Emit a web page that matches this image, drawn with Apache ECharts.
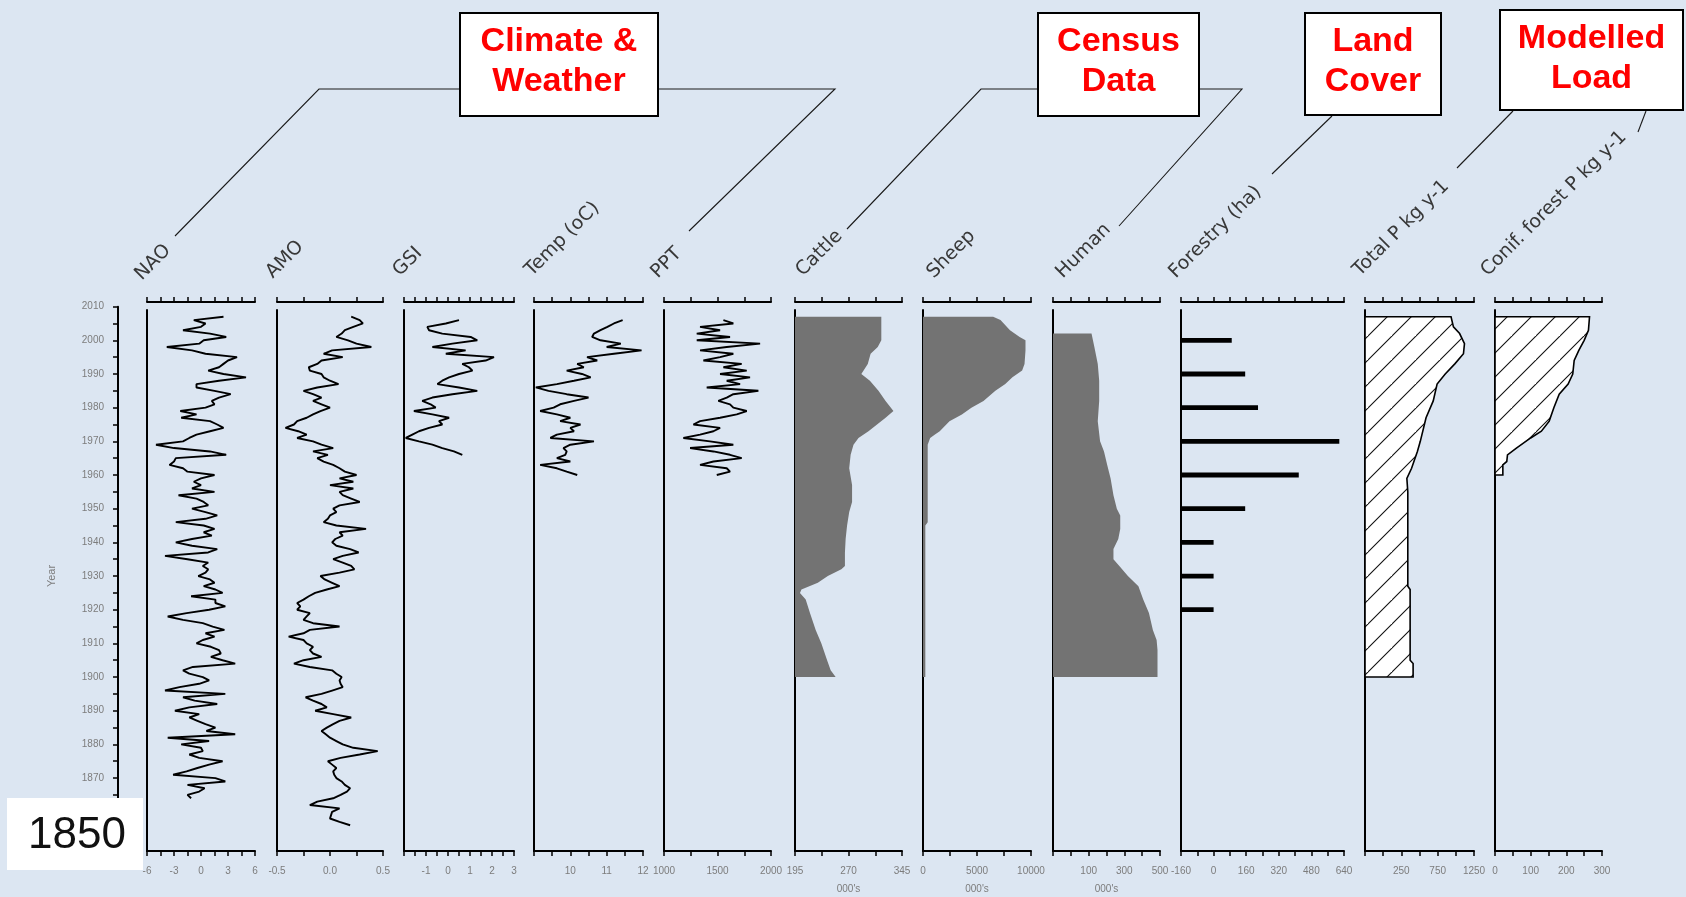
<!DOCTYPE html>
<html>
<head>
<meta charset="utf-8">
<script src="https://cdn.jsdelivr.net/npm/echarts@6/dist/echarts.min.js"></script>
<style>
  html, body { margin: 0; padding: 0; background: #dce6f2; }
  #chart { width: 1686px; height: 897px; }
</style>
</head>
<body>
<div id="chart"></div>
<script>
// ---------------- data ----------------
// Climate indices, annual
const naoStart = 1864;
const naoValues = [
  -1.1, -1.5, -0.2, 0.4, -1.5, 2.7, 1.6, -3.1, -1.6, -0.4, 0.9, 2.4, -0.2, -1.3, 0.2, 0.0, -2.2, 0.9, -3.7, 3.8,
  0.6, 1.6, 0.5, -0.4, -1.3, -0.2, -2.9, -1.3, 1.8, -0.7, -2.0, 2.7, -4.0, -2.4, -0.2, 0.9, 0.2, -1.3, -2.0, -0.9,
  3.8, 2.4, 1.1, 2.2, 2.0, 1.1,
  -0.5, 0.2, 1.5, 0.5, 2.6, 1.3, 0.2, -2.0, -3.7, -1.6, 0.9, 2.7, 1.6, 1.6, -1.1, 2.4, 1.6, 0.3, 1.5, 1.0,
  -0.3, 0.5, 0.8, 0.2, 0.8, -1.5, -4.0, 0.8, 1.8, -1.0, -2.8, -1.0, 1.2, 0.3, 1.5, 0.3, -2.8, 0.5, 1.8, 0.5,
  -1.0, 0.8, 0.3, -0.5, -2.5, 1.5, -1.0, 0.0, -0.8, 0.0, 1.5, -1.5, -2.0, -3.5, -3.0, -2.8, 2.8, 1.0, -3.0, -5.0,
  -2.0, -1.3, -0.5, 1.0, 2.5, 1.8, 1.0, -2.2, -0.5, -2.3, 0.5, 1.5, 1.2, 2.0, 3.3, 1.5, -0.5, -0.5, 2.0, 5.0,
  2.5, 0.8, 2.0, 2.5, 3.0, 4.0, 0.5, -1.0, -3.8, -0.2, 0.3, 2.8, 1.0, -2.0, 0.0, 0.5, -0.8, 2.5
];
const amoStart = 1856;
const amoValues = [
  0.19, 0.09, 0.00, 0.01, 0.02, 0.09, -0.19, -0.12, 0.03, 0.10, 0.16, 0.19, 0.14, 0.11, 0.06, 0.04, 0.03, 0.06, 0.02, -0.02,
  0.10, 0.28, 0.45, 0.22, 0.12, 0.06, 0.00, -0.04, -0.08, -0.03, 0.03, 0.09, 0.20, 0.03, -0.14, -0.03, -0.08, -0.16, -0.23, -0.08,
  0.02, 0.12, 0.10, 0.09, 0.11, 0.06, 0.02, -0.19, -0.34, -0.25, -0.08, -0.16, -0.19, -0.16, -0.22, -0.25, -0.39, -0.25, -0.19, 0.09,
  -0.16, -0.25, -0.22, -0.19, -0.31, -0.28, -0.31, -0.25, -0.20, -0.14, -0.03, 0.09, 0.02, -0.05,
  -0.09, 0.09, 0.23, 0.20, 0.12, 0.03, 0.12, 0.27, 0.19, 0.06, 0.02, 0.05, 0.12, 0.09, 0.34, 0.06, -0.06, -0.02, 0.00, 0.06,
  0.03, 0.09, 0.28, 0.20, 0.12, 0.09, 0.22, 0.00, 0.22, 0.09, 0.25, 0.14, 0.09, 0.03, -0.06, -0.12, -0.02, -0.16, 0.03, -0.08,
  -0.16, -0.31, -0.22, -0.30, -0.42, -0.34, -0.31, -0.22, -0.16, -0.09, 0.00, -0.08, -0.16, -0.08, -0.16, -0.25, -0.12, 0.08, 0.00, -0.06,
  -0.08, -0.19, -0.20, -0.12, -0.08, 0.12, -0.06, 0.02, 0.39, 0.25, 0.17, 0.06, 0.11, 0.14, 0.22, 0.31, 0.28, 0.20
];
const gsiStart = 1966;
const gsiValues = [
  0.65, 0.27, -0.26, -0.71, -1.32, -1.92, -1.62, -1.32, -0.86, -0.26, -0.41, 0.05, -0.71, -1.55, -0.56, -0.79, -1.17, -0.71, 0.2, 1.33,
  0.5, -0.48, -0.26, 0.05, 0.5, 1.11, 0.95, 0.65, 1.71, 2.09, -0.1, 0.8, -0.71, 0.2, 1.33, 1.03, -0.26, -0.86, -0.94, -0.1, 0.5
];
const tempStart = 1960;
const tempValues = [
  10.19, 9.9, 9.63, 9.17, 10.0, 9.63, 9.86, 9.9, 9.81, 10.0, 10.65, 9.45, 9.63, 10.1, 10.0, 10.28, 9.72, 10.0, 9.63, 9.17,
  9.54, 9.72, 10.1, 10.5, 9.9, 9.4, 9.05, 9.63, 10.1, 10.56, 10.32, 9.9, 10.37, 10.19, 10.74, 10.46, 11.2, 11.96, 11.0, 11.39,
  10.83, 10.6, 10.65, 10.83, 11.02, 11.2, 11.44
];
const pptStart = 1960;
const pptValues = [
  1493, 1617, 1586, 1337, 1462, 1726, 1617, 1462, 1244, 1648, 1430, 1181, 1337, 1462, 1524, 1275, 1337, 1524, 1680, 1773,
  1648, 1617, 1508, 1586, 1648, 1882, 1399, 1711, 1586, 1804, 1524, 1773, 1555, 1726, 1368, 1524, 1648, 1337, 1586, 1898,
  1306, 1617, 1306, 1524, 1337, 1648, 1555
];

// Census data (000's)
const cattleYears  = [1900, 1902, 1905, 1910, 1914, 1919, 1923, 1925, 1926, 1928, 1930, 1932, 1933, 1937, 1941, 1945, 1949, 1952, 1957, 1962, 1966, 1969, 1971, 1973, 1975, 1977, 1979, 1982, 1985, 1988, 1990, 1993, 1996, 1998, 2000, 2007];
const cattleValues = [252, 245, 240, 232, 224, 216, 210, 202, 204, 227, 241, 260, 265, 265, 266, 268, 271, 275, 275, 271, 273, 277, 284, 298, 310, 322, 333, 322, 312, 300, 288, 297, 301, 311, 316, 316];
const sheepYears  = [1900, 1945, 1946, 1969, 1971, 1972, 1973, 1976, 1978, 1980, 1982, 1985, 1987, 1989, 1991, 1993, 1997, 2000, 2001, 2003, 2006, 2007];
const sheepValues = [215, 215, 435, 435, 660, 1110, 1550, 2450, 3600, 4480, 5600, 6700, 7620, 8280, 9180, 9400, 9490, 9490, 8950, 8055, 7175, 6495];
const humanYears  = [1900, 1908, 1911, 1914, 1919, 1923, 1927, 1930, 1933, 1935, 1938, 1941, 1944, 1948, 1950, 1954, 1959, 1963, 1967, 1970, 1976, 1982, 1988, 1993, 1998, 2002];
const humanValues = [486, 486, 481, 460, 438, 406, 379, 320, 272, 239, 239, 266, 277, 277, 258, 239, 223, 204, 186, 164, 151, 159, 159, 151, 132, 116];

// Land cover
const forestryYears  = [1920, 1930, 1940, 1950, 1960, 1970, 1980, 1990, 2000];
const forestryValues = [0, 0, 0, 155, 418, 617, 218, 155, 89];

// Modelled load
const totalPYears  = [1900, 1904, 1905, 1926, 1927, 1955, 1959, 1962, 1967, 1970, 1977, 1982, 1987, 1990, 1993, 1996, 1999, 2002, 2004, 2007];
const totalPValues = [412, 412, 371, 371, 339, 339, 326, 391, 471, 511, 590, 689, 742, 854, 986, 1105, 1119, 1052, 967, 934];
const conifYears  = [1960, 1963, 1964, 1966, 1968, 1971, 1973, 1976, 1980, 1984, 1987, 1990, 1994, 1997, 2000, 2003, 2007];
const conifValues = [22, 22, 33, 35, 60, 100, 130, 152, 165, 180, 205, 218, 222, 235, 250, 262, 265];

// Tick labels
const yearTicks = [1850, 1860, 1870, 1880, 1890, 1900, 1910, 1920, 1930, 1940, 1950, 1960, 1970, 1980, 1990, 2000, 2010];
const naoTicks = [-6, -3, 0, 3, 6];
const amoTicks = [-0.5, 0, 0.5];
const gsiTicks = [-1, 0, 1, 2, 3];
const tempTicks = [10, 11, 12];
const pptTicks = [1000, 1500, 2000];
const cattleTicks = [195, 270, 345];
const sheepTicks = [0, 5000, 10000];
const humanTicks = [100, 300, 500];
const forestryTicks = [-160, 0, 160, 320, 480, 640];
const totalPTicks = [250, 750, 1250];
const conifTicks = [0, 100, 200, 300];

// Panel headings and group boxes
const panelTitles = ['NAO', 'AMO', 'GSI', 'Temp (oC)', 'PPT', 'Cattle', 'Sheep', 'Human', 'Forestry (ha)', 'Total P kg y-1', 'Conif. forest P kg y-1'];
const groupTitles = [['Climate &', 'Weather'], ['Census', 'Data'], ['Land', 'Cover'], ['Modelled', 'Load']];

// ---------------- layout ----------------
const GRID_TOP = 310, GRID_H = 541;
const Y_MIN = 1848.35, Y_MAX = 2009.0;
const TICK_FONT = '"Liberation Sans", Arial, sans-serif';
const TICK_COLOR = '#7c7c7c';

const panels = [
  { left: 147,  width: 108, min: -6,   max: 6,     step: 1.5,  labels: naoTicks },
  { left: 277,  width: 106, min: -0.5, max: 0.5,   step: 0.25, labels: amoTicks, digits: 1 },
  { left: 404,  width: 110, min: -2,   max: 3,     step: 0.5,  labels: gsiTicks },
  { left: 534,  width: 109, min: 9,    max: 12,    step: 0.5,  labels: tempTicks },
  { left: 664,  width: 107, min: 1000, max: 2000,  step: 250,  labels: pptTicks },
  { left: 795,  width: 107, min: 195,  max: 345,   step: 37.5, labels: cattleTicks, unit: "000's" },
  { left: 923,  width: 108, min: 0,    max: 10000, step: 2500, labels: sheepTicks, unit: "000's" },
  { left: 1053, width: 107, min: -100, max: 500,   step: 100,  labels: humanTicks, unit: "000's" },
  { left: 1181, width: 163, min: -160, max: 640,   step: 80,   labels: forestryTicks },
  { left: 1365, width: 109, min: -250, max: 1250,  step: 250,  labels: totalPTicks },
  { left: 1495, width: 107, min: 0,    max: 300,   step: 50,   labels: conifTicks }
];

function tickRange(min, max, step) {
  const out = [];
  for (let v = min; v <= max + step * 1e-6; v += step) out.push(+v.toFixed(6));
  return out;
}

const grids = [], xAxes = [], yAxes = [];
panels.forEach((p, i) => {
  grids.push({ left: p.left, top: GRID_TOP, width: p.width, height: GRID_H, containLabel: false, outerBoundsMode: 'none' });
  const ticks = tickRange(p.min, p.max, p.step);
  const fmt = (v) => p.digits ? Number(v).toFixed(p.digits) : String(v);
  xAxes.push({
    type: 'value', gridIndex: i, position: 'bottom', min: p.min, max: p.max,
    axisLine: { show: true, onZero: false, lineStyle: { color: '#000', width: 2 } },
    axisTick: { show: true, inside: false, length: 5, customValues: ticks, lineStyle: { color: '#000', width: 1.5 } },
    axisLabel: { show: true, customValues: p.labels, margin: 15, fontSize: 10, color: TICK_COLOR, fontFamily: TICK_FONT, formatter: fmt },
    splitLine: { show: false },
    name: p.unit || '', nameLocation: 'middle', nameGap: 33,
    nameTextStyle: { fontSize: 10, color: TICK_COLOR, fontFamily: TICK_FONT }
  });
  xAxes.push({
    type: 'value', gridIndex: i, position: 'top', offset: 8, min: p.min, max: p.max,
    axisLine: { show: true, onZero: false, lineStyle: { color: '#000', width: 2 } },
    axisTick: { show: true, inside: false, length: 5, customValues: ticks, lineStyle: { color: '#000', width: 1.5 } },
    axisLabel: { show: false },
    splitLine: { show: false }
  });
  yAxes.push({
    type: 'value', gridIndex: i, min: Y_MIN, max: Y_MAX, position: 'left',
    axisLine: { show: true, onZero: false, lineStyle: { color: '#000', width: 2 } },
    axisTick: { show: false }, axisLabel: { show: false }, splitLine: { show: false }
  });
});

// Year axis on the far left
const yearGrid = grids.length;
grids.push({ left: 118, top: 306.7, width: 10, height: 538.7, containLabel: false, outerBoundsMode: 'none' });
xAxes.push({ type: 'value', gridIndex: yearGrid, show: false, min: 0, max: 1 });
yAxes.push({
  type: 'value', gridIndex: yearGrid, min: 1850, max: 2010, position: 'left',
  axisLine: { show: true, onZero: false, lineStyle: { color: '#000', width: 2 } },
  axisTick: { show: true, inside: false, length: 5, customValues: tickRange(1850, 2010, 5), lineStyle: { color: '#000', width: 1.5 } },
  axisLabel: { show: true, customValues: yearTicks, margin: 14, fontSize: 10, color: TICK_COLOR, fontFamily: TICK_FONT, formatter: (v) => String(v) },
  splitLine: { show: false }
});

// ---------------- series ----------------
function annualLine(pi, start, values) {
  return {
    type: 'line', xAxisIndex: 2 * pi, yAxisIndex: pi,
    data: values.map((v, i) => [v, start + i]),
    symbol: 'none', showSymbol: false, silent: true,
    lineStyle: { color: '#000', width: 1.9 }
  };
}

function areaPolygon(pi, years, values, style) {
  const p = panels[pi];
  return {
    type: 'custom', xAxisIndex: 2 * pi, yAxisIndex: pi, silent: true,
    data: years.map((y, i) => [values[i], y]),
    encode: { x: 0, y: 1 },
    renderItem(params, api) {
      if (params.dataIndex !== 0) return null;
      const pts = years.map((y, i) => api.coord([values[i], y]));
      pts.unshift(api.coord([p.min, years[0]]));
      pts.push(api.coord([p.min, years[years.length - 1]]));
      return { type: 'polygon', shape: { points: pts }, style: style };
    }
  };
}

function hatchPattern() {
  const s = 24;
  const c = document.createElement('canvas');
  c.width = s; c.height = s;
  const g = c.getContext('2d');
  g.fillStyle = '#ffffff';
  g.fillRect(0, 0, s, s);
  g.strokeStyle = '#111';
  g.lineWidth = 1.1;
  g.beginPath();
  g.moveTo(-2, s + 2); g.lineTo(s + 2, -2);
  g.moveTo(-2 - s, s + 2); g.lineTo(2, -2);
  g.moveTo(s - 2, 2 * s); g.lineTo(2 * s + 2, s - 2);
  g.stroke();
  return { image: c, repeat: 'repeat' };
}

const grey = { fill: '#737373' };
const hatched = { fill: hatchPattern(), stroke: '#000', lineWidth: 1.6 };

const forestryBars = {
  type: 'custom', xAxisIndex: 16, yAxisIndex: 8, silent: true,
  data: forestryYears.map((y, i) => [forestryValues[i], y]),
  encode: { x: 0, y: 1 },
  renderItem(params, api) {
    const v = api.value(0), y = api.value(1);
    const a = api.coord([panels[8].min, y]);
    const b = api.coord([v, y]);
    return { type: 'rect', shape: { x: a[0], y: a[1] - 2.4, width: b[0] - a[0], height: 4.8 }, style: { fill: '#000' } };
  }
};

const series = [
  annualLine(0, naoStart, naoValues),
  annualLine(1, amoStart, amoValues),
  annualLine(2, gsiStart, gsiValues),
  annualLine(3, tempStart, tempValues),
  annualLine(4, pptStart, pptValues),
  areaPolygon(5, cattleYears, cattleValues, grey),
  areaPolygon(6, sheepYears, sheepValues, grey),
  areaPolygon(7, humanYears, humanValues, grey),
  forestryBars,
  areaPolygon(9, totalPYears, totalPValues, hatched),
  areaPolygon(10, conifYears, conifValues, hatched)
];

// ---------------- annotations ----------------
const titleAnchors = [
  [145, 284], [276, 282], [403, 280], [535, 280], [661, 282], [806, 280],
  [937, 282], [1066, 282], [1179, 282], [1363, 280], [1491, 280]
];
const graphic = [];
panelTitles.forEach((t, i) => {
  graphic.push({
    type: 'text', x: titleAnchors[i][0], y: titleAnchors[i][1], rotation: Math.PI / 4, silent: true,
    style: { text: t, fill: '#383838', font: '19px "DejaVu Sans", sans-serif', align: 'left', verticalAlign: 'bottom' }
  });
});

const leaderLines = [
  [[175, 236], [319, 89], [460, 89]],
  [[689, 231], [835, 89], [658, 89]],
  [[847, 229], [981, 89], [1038, 89]],
  [[1119, 226], [1242, 89], [1199, 89]],
  [[1272, 174], [1332, 116]],
  [[1457, 168], [1513, 111]],
  [[1638, 132], [1646, 111]]
];
leaderLines.forEach(pts => {
  graphic.push({ type: 'polyline', silent: true, shape: { points: pts }, style: { stroke: '#1a1a1a', lineWidth: 1.1, fill: null } });
});

const groupBoxes = [
  { x: 460, y: 13, w: 198, h: 103 },
  { x: 1038, y: 13, w: 161, h: 103 },
  { x: 1305, y: 13, w: 136, h: 102 },
  { x: 1500, y: 10, w: 183, h: 100 }
];
groupBoxes.forEach((b, i) => {
  graphic.push({ type: 'rect', silent: true, shape: { x: b.x, y: b.y, width: b.w, height: b.h }, style: { fill: '#fff', stroke: '#000', lineWidth: 2 }, z: 10 });
  const cx = b.x + b.w / 2;
  groupTitles[i].forEach((line, k) => {
    graphic.push({
      type: 'text', silent: true, z: 11, x: cx, y: b.y + 29 + k * 40,
      style: { text: line, fill: '#ff0000', font: 'bold 34px "Liberation Sans", Arial, sans-serif', align: 'center', verticalAlign: 'middle' }
    });
  });
});

// Axis title for the year scale
graphic.push({
  type: 'text', silent: true, x: 52, y: 576, rotation: Math.PI / 2,
  style: { text: 'Year', fill: TICK_COLOR, font: '11px ' + TICK_FONT, align: 'center', verticalAlign: 'middle' }
});

// Start-year callout
graphic.push({ type: 'rect', silent: true, z: 20, shape: { x: 7, y: 798, width: 136, height: 72 }, style: { fill: '#fff' } });
graphic.push({
  type: 'text', silent: true, z: 21, x: 77, y: 836,
  style: { text: '1850', fill: '#111', font: '44px "Liberation Sans", Arial, sans-serif', align: 'center', verticalAlign: 'middle' }
});

const chart = echarts.init(document.getElementById('chart'), null, { renderer: 'canvas' });
chart.setOption({
  backgroundColor: '#dce6f2',
  animation: false,
  grid: grids,
  xAxis: xAxes,
  yAxis: yAxes,
  series: series,
  graphic: graphic
});
</script>
</body>
</html>
